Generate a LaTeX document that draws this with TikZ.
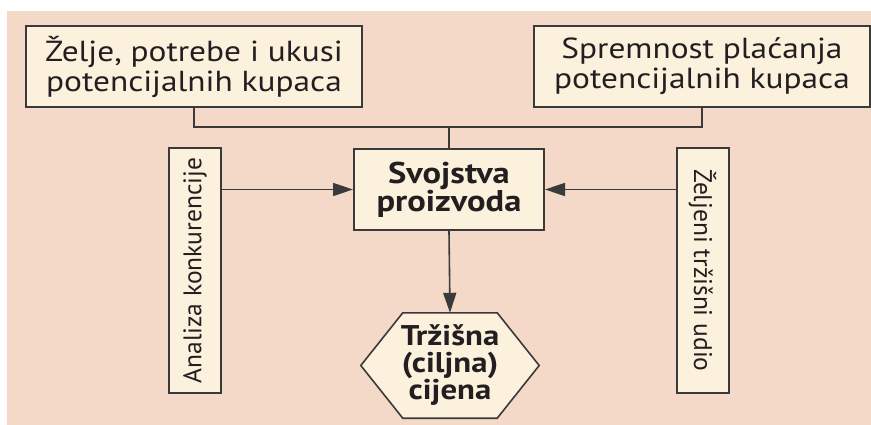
\documentclass[tikz,border=0pt]{standalone}
\usepackage{fontspec}
\usepackage{graphicx}
\setmainfont{PT Sans}[FakeStretch=1.15]
\newfontfamily\vfont{PT Sans}
\usetikzlibrary{arrows.meta,calc}
\definecolor{peach}{HTML}{F5D9C8}
\definecolor{cream}{HTML}{FBF1DD}
\definecolor{edge}{HTML}{3A3A3A}
\definecolor{ink}{HTML}{231F20}
\begin{document}
\begin{tikzpicture}[x=1pt,y=-1pt,
  box/.style={draw=edge, fill=cream, line width=2pt, inner sep=0pt, align=center, text=ink},
  topbox/.style={box, minimum width=336pt, minimum height=81pt, font=\fontsize{29}{30}\selectfont},
  midbox/.style={box, minimum width=190pt, minimum height=81pt, font=\bfseries\fontsize{30}{28}\selectfont},
  vbox/.style={box, minimum width=52pt, minimum height=245pt, font=\vfont\fontsize{25.5}{28}\selectfont},
  hextext/.style={inner sep=0pt, align=center, text=ink, font=\bfseries\fontsize{28.5}{27}\selectfont},
  link/.style={draw=edge, line width=1.6pt},
  arr/.style={link, -{Triangle[length=20pt,width=13pt]}}
]
\useasboundingbox (0,0) rectangle (871,425);
\fill[white] (0,0) rectangle (871,425);
\fill[peach] (7,11) rectangle (871,425);

\node[topbox] (tl) at (194,66.5) {Želje, potrebe i ukusi\\potencijalnih kupaca};
\node[topbox] (tr) at (702,66.5) {Spremnost plaćanja\\potencijalnih kupaca};
\node[midbox] (c) at (449,189.5) {Svojstva\\proizvoda};
\node[vbox] (lv) at (195,270.5) {\rotatebox{90}{Analiza konkurencije}};
\node[vbox] (rv) at (702.5,270.5) {\rotatebox{-90}{Željeni tržišni udio}};
\node[inner sep=0pt, minimum width=178pt, minimum height=105pt] (h) at (450,365.5) {};
\draw[draw=edge, fill=cream, line width=1.6pt]
  (h.west) -- ($(h.north west)+(42,0)$) -- ($(h.north east)+(-42,0)$) -- (h.east)
  -- ($(h.south east)+(-42,0)$) -- ($(h.south west)+(42,0)$) -- cycle;
\node[hextext] (ht) at (h.center) {Tržišna\\(ciljna)\\cijena};

\coordinate (j) at (449,127);
\draw[link] (tl.south) |- (j) -| (tr.south);
\draw[link] (j) -- (c.north);
\draw[arr] (lv.east |- c.west) -- (c.west);
\draw[arr] (rv.west |- c.east) -- (c.east);
\draw[arr] (c.south) -- (h.north);
\end{tikzpicture}
\end{document}
